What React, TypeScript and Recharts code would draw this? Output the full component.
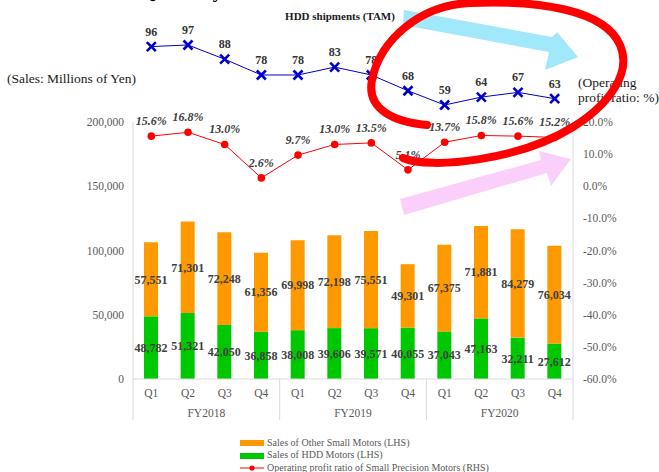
import React from 'react';
import { ComposedChart, Bar, Line, XAxis, YAxis, LabelList, Legend } from 'recharts';

const quarters = ['Q1', 'Q2', 'Q3', 'Q4', 'Q1', 'Q2', 'Q3', 'Q4', 'Q1', 'Q2', 'Q3', 'Q4'];
const fiscalYears = ['FY2018', 'FY2018', 'FY2018', 'FY2018', 'FY2019', 'FY2019', 'FY2019', 'FY2019', 'FY2020', 'FY2020', 'FY2020', 'FY2020'];
const hddMotorSales = [48782, 51321, 42050, 36858, 38008, 39606, 39571, 40055, 37043, 47163, 32211, 27612];
const otherMotorSales = [57551, 71301, 72248, 61356, 69998, 72198, 75551, 49301, 67375, 71881, 84279, 76034];
const profitRatio = [15.6, 16.8, 13.0, 2.6, 9.7, 13.0, 13.5, 5.1, 13.7, 15.8, 15.6, 15.2];
const hddShipments = [96, 97, 88, 78, 78, 83, 78, 68, 59, 64, 67, 63];
const salesTicks = [0, 50000, 100000, 150000, 200000];
const ratioTicks = [-60, -50, -40, -30, -20, -10, 0, 10, 20];
const shipmentDomain = [50, 100];

const legendItems = [
  { label: 'Sales of Other Small Motors (LHS)', color: '#FF9900', kind: 'bar' },
  { label: 'Sales of HDD Motors (LHS)', color: '#00C800', kind: 'bar' },
  { label: 'Operating profit ratio of Small Precision Motors (RHS)', color: '#FF0000', kind: 'line' },
];

const FONT = '"Liberation Serif", "Times New Roman", serif';

const data = quarters.map((q, i) => ({
  q,
  fy: fiscalYears[i],
  hdd: hddMotorSales[i],
  other: otherMotorSales[i],
  ratio: profitRatio[i],
}));

const shipData = quarters.map((q, i) => ({ idx: i, q, ship: hddShipments[i] }));

const fmtNum = (v: any) => Number(v).toLocaleString('en-US');
const fmtPct = (v: any) => Number(v).toFixed(1) + '%';

const QuarterTick = (props: any) => {
  const { x, y, payload } = props;
  const index = payload?.index ?? 0;
  const half = payload?.offset ?? 18.33;
  return (
    <g>
      <text x={x} y={y} dy="0.71em" textAnchor="middle" fill="#595959" fontSize={11.5} fontFamily={FONT}>
        {payload.value}
      </text>
      {index % 4 === 0 && (
        <line x1={x - half} x2={x - half} y1={y - 10} y2={y + 31} stroke="#d9d9d9" strokeWidth={1} />
      )}
      {index === quarters.length - 1 && (
        <line x1={x + half} x2={x + half} y1={y - 10} y2={y + 31} stroke="#d9d9d9" strokeWidth={1} />
      )}
      {index % 4 === 1 && (
        <text x={x + half} y={y + 20} dy="0.71em" textAnchor="middle" fill="#595959" fontSize={11.5} fontFamily={FONT}>
          {fiscalYears[index]}
        </text>
      )}
    </g>
  );
};

const XMark = (props: any) => {
  const { cx, cy } = props;
  if (cx == null || cy == null) return null;
  return (
    <g>
      <line x1={cx - 4.5} y1={cy - 4.5} x2={cx + 4.5} y2={cy + 4.5} stroke="#0000CC" strokeWidth={2.6} />
      <line x1={cx - 4.5} y1={cy + 4.5} x2={cx + 4.5} y2={cy - 4.5} stroke="#0000CC" strokeWidth={2.6} />
    </g>
  );
};

const LegendContent = () => (
  <div
    style={{
      height: 40,
      boxSizing: 'border-box',
      paddingTop: 4.75,
      paddingLeft: 240,
      fontFamily: FONT,
      fontSize: 10,
      color: '#595959',
      textAlign: 'left',
    }}
  >
    {legendItems.map((it) => (
      <div key={it.label} style={{ display: 'flex', alignItems: 'center', height: 12.5, lineHeight: '12.5px', whiteSpace: 'nowrap' }}>
        <svg width={24} height={8} style={{ marginRight: 3, flex: 'none' }}>
          {it.kind === 'bar' ? (
            <rect x={0} y={1} width={24} height={6} fill={it.color} />
          ) : (
            <g>
              <line x1={0} x2={24} y1={4} y2={4} stroke={it.color} strokeWidth={1} />
              <circle cx={12} cy={4} r={2.6} fill={it.color} />
            </g>
          )}
        </svg>
        <span>{it.label}</span>
      </div>
    ))}
  </div>
);

export default function App() {
  return (
    <div style={{ position: 'absolute', left: 0, top: 0, width: 659, height: 472, background: '#fff', fontFamily: FONT, overflow: 'hidden' }}>
      <div style={{ position: 'absolute', left: 0, top: 0 }}>
        <ComposedChart width={659} height={472} data={data} margin={{ top: 122, right: 0, bottom: 0, left: 0 }}>
          <XAxis
            dataKey="q"
            height={53}
            axisLine={{ stroke: '#d9d9d9' }}
            tickLine={false}
            tickMargin={4}
            interval={0}
            tick={<QuarterTick />}
          />
          <YAxis
            yAxisId="left"
            width={133}
            domain={[0, 200000]}
            ticks={salesTicks}
            tickFormatter={fmtNum}
            axisLine={{ stroke: '#d9d9d9' }}
            tickLine={false}
            tickMargin={3}
            tick={{ fill: '#595959', fontSize: 11.5, fontFamily: FONT }}
          />
          <YAxis
            yAxisId="right"
            orientation="right"
            width={86}
            domain={[-60, 20]}
            ticks={ratioTicks}
            tickFormatter={fmtPct}
            axisLine={{ stroke: '#d9d9d9' }}
            tickLine={false}
            tickMargin={4}
            tick={{ fill: '#595959', fontSize: 11.5, fontFamily: FONT, textAnchor: 'start' }}
          />
          <Legend verticalAlign="bottom" align="left" height={40} content={<LegendContent />} />
          <Bar yAxisId="left" dataKey="hdd" stackId="s" fill="#00C800" barSize={14} isAnimationActive={false}>
            <LabelList dataKey="hdd" position="center" formatter={fmtNum} fill="#404040" fontSize={12} fontWeight="bold" fontFamily={FONT} />
          </Bar>
          <Bar yAxisId="left" dataKey="other" stackId="s" fill="#FF9900" barSize={14} isAnimationActive={false}>
            <LabelList dataKey="other" position="center" formatter={fmtNum} fill="#404040" fontSize={12} fontWeight="bold" fontFamily={FONT} />
          </Bar>
          <Line
            yAxisId="right"
            dataKey="ratio"
            stroke="#FF0000"
            strokeWidth={1}
            dot={{ r: 3.8, fill: '#FF0000', stroke: '#FF0000', strokeWidth: 0 }}
            activeDot={false}
            isAnimationActive={false}
          >
            <LabelList
              dataKey="ratio"
              position="top"
              offset={11}
              formatter={fmtPct}
              fill="#404040"
              fontSize={12}
              fontWeight="bold"
              fontStyle="italic"
              fontFamily={FONT}
            />
          </Line>
        </ComposedChart>
      </div>

      <div style={{ position: 'absolute', left: 0, top: 0 }}>
        <ComposedChart width={659} height={130} data={shipData} margin={{ top: 40.26, right: 86, bottom: 10.8, left: 133 }}>
          <XAxis dataKey="idx" type="number" domain={[-0.5, 11.5]} hide />
          <YAxis domain={shipmentDomain} hide />
          <Line dataKey="ship" stroke="#0000CC" strokeWidth={1} dot={<XMark />} activeDot={false} isAnimationActive={false}>
            <LabelList dataKey="ship" position="top" offset={11} fill="#333333" fontSize={12} fontWeight="bold" fontFamily={FONT} />
          </Line>
        </ComposedChart>
      </div>

      <svg width={659} height={472} style={{ position: 'absolute', left: 0, top: 0, pointerEvents: 'none' }}>
        <text x={141} y={-2} fontSize={19} fontWeight="bold" fontFamily={FONT} fill="#000">Quarterly</text>
        <text x={340} y={20} textAnchor="middle" fontSize={11} fontWeight="bold" fontFamily={FONT} fill="#1a1a1a">
          HDD shipments (TAM)
        </text>
        <text x={7} y={83} fontSize={13.5} fontFamily={FONT} fill="#1a1a1a">(Sales: Millions of Yen)</text>
        <text x={578} y={87} fontSize={13.5} fontFamily={FONT} fill="#1a1a1a">(Operating</text>
        <text x={578} y={101.5} fontSize={13.5} fontFamily={FONT} fill="#1a1a1a">profit ratio: %)</text>
        <polygon points="404,10 552,37 557,32 578,57 545,70 549,52 403,25" fill="#A0E8FA" />
        <polygon points="400,199 541,160 539,151 571,159 551,186 547,173 404,215" fill="#FAD0FA" />
        <path
          d="M 403 158 C 430 170, 520 160, 573 127 C 610 104, 632 72, 620 45 C 605 10, 540 0, 470 3 C 420 5, 380 40, 372 80 C 366 110, 395 122, 427 125"
          fill="none"
          stroke="#FF0000"
          strokeWidth={8}
          strokeLinecap="round"
        />
      </svg>
    </div>
  );
}
